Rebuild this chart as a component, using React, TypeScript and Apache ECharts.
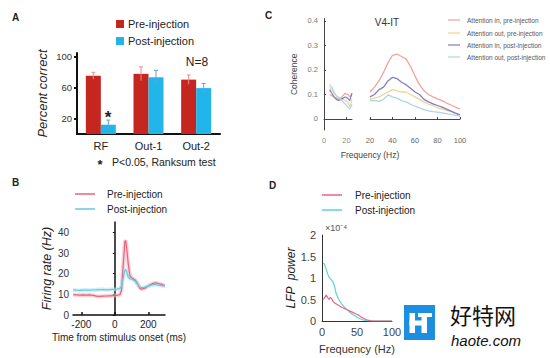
import React, { useEffect, useRef } from "react";
import * as echarts from "echarts";

// ---------- Panel A ----------
const categories = ["RF", "Out-1", "Out-2"];
const preValues = [75.5, 78, 70.5];
const postValues = [12, 73.5, 59.5];
const preErr = [4.5, 9, 6];
const postErr = [6, 9, 6];
const aTicks = [20, 60, 100];

// ---------- Panel B ----------
const bTime = [-250, -230, -210, -190, -170, -150, -130, -110, -90, -70, -50, -30, -10, 10, 30, 40, 50, 60, 65, 70, 80, 90, 100, 110, 120, 130, 140, 150, 160, 170, 180, 190, 200, 210, 220, 230, 240, 250, 260, 270, 280, 290, 300];
const bPre = [9.8, 9.7, 9.6, 9.7, 9.6, 9.7, 9.5, 9.1, 9.0, 9.1, 9.2, 9.3, 9.4, 9.5, 9.8, 12, 24, 35.5, 36, 33, 25, 19, 18, 17.5, 17, 16, 14.5, 13, 12.5, 12.8, 13, 13.5, 14, 14.5, 15, 15.3, 15.5, 15.5, 15.2, 15, 14.8, 14.5, 14.3];
const bPost = [12.2, 12, 11.9, 12, 12.1, 12.0, 12.1, 12.2, 12.3, 12.3, 12.2, 12.3, 12.4, 12.5, 12.8, 14, 18, 21.5, 22, 21, 18.5, 17.5, 17.5, 17, 16.5, 15.5, 14.5, 13.5, 13.2, 13.3, 13.5, 13.8, 14, 14.3, 14.5, 14.7, 14.8, 14.6, 14.5, 14.3, 14.2, 14.1, 14];
const bXTicks = [-200, 0, 200];
const bYTicks = [0, 10, 20, 30, 40];

// ---------- Panel C ----------
const cFreqLow = [5, 7, 9, 11, 13, 15, 17, 19, 21, 23, 25];
const cInPreLow = [0.1, 0.095, 0.09, 0.085, 0.08, 0.085, 0.095, 0.105, 0.1, 0.09, 0.105];
const cOutPreLow = [0.13, 0.12, 0.105, 0.095, 0.09, 0.085, 0.08, 0.075, 0.07, 0.05, 0.08];
const cInPostLow = [0.12, 0.105, 0.09, 0.08, 0.075, 0.08, 0.085, 0.09, 0.085, 0.075, 0.105];
const cOutPostLow = [0.14, 0.13, 0.11, 0.095, 0.085, 0.08, 0.07, 0.06, 0.05, 0.04, 0.06];
const cFreqHigh = [20, 24, 28, 32, 36, 40, 44, 48, 52, 56, 60, 64, 68, 72, 76, 80, 84, 88, 92, 96, 100];
const cInPreHigh = [0.11, 0.13, 0.155, 0.19, 0.23, 0.26, 0.265, 0.255, 0.245, 0.215, 0.175, 0.14, 0.115, 0.1, 0.09, 0.082, 0.075, 0.065, 0.057, 0.048, 0.04];
const cOutPreHigh = [0.08, 0.085, 0.09, 0.1, 0.11, 0.12, 0.115, 0.11, 0.11, 0.1, 0.09, 0.08, 0.07, 0.06, 0.055, 0.045, 0.04, 0.035, 0.03, 0.022, 0.017];
const cInPostHigh = [0.09, 0.1, 0.12, 0.13, 0.155, 0.17, 0.165, 0.15, 0.14, 0.125, 0.11, 0.1, 0.08, 0.07, 0.062, 0.055, 0.048, 0.04, 0.032, 0.024, 0.017];
const cOutPostHigh = [0.075, 0.075, 0.072, 0.08, 0.098, 0.09, 0.085, 0.075, 0.07, 0.06, 0.052, 0.045, 0.038, 0.033, 0.03, 0.028, 0.025, 0.022, 0.018, 0.015, 0.012];
const cYTicks = [0, 0.1, 0.2, 0.3, 0.4];
const cLowTicks = [0, 20];
const cHighTicks = [20, 40, 60, 80, 100];
const cNames = [
  "Attention in, pre-injection",
  "Attention out, pre-injection",
  "Attention in, post-injection",
  "Attention out, post-injection",
];

// ---------- Panel D ----------
const dFreq = [2, 4, 6, 8, 10, 12, 14, 16, 18, 20, 24, 28, 32, 36, 40, 44, 48, 52, 56, 60, 64, 68, 72, 80, 90, 100];
const dPre = [0.5, 0.55, 0.6, 0.55, 0.5, 0.55, 0.52, 0.45, 0.42, 0.4, 0.36, 0.32, 0.29, 0.26, 0.23, 0.2, 0.17, 0.14, 0.09, 0.06, 0.03, 0.01, 0, 0, 0, 0];
const dPost = [1.35, 1.3, 1.2, 1.1, 1.02, 0.98, 0.95, 0.9, 0.8, 0.65, 0.5, 0.4, 0.32, 0.26, 0.2, 0.15, 0.11, 0.07, 0.04, 0.02, 0.01, 0.005, 0, 0, 0, 0];
const dXTicks = [0, 50, 100];
const dYTicks = [0, 0.5, 1, 1.5, 2];

const FONT = "Liberation Sans, Arial, sans-serif";
const RED = "#c5261f";
const CYAN = "#22b5ea";
const cColors = ["#f2a39b", "#f0d596", "#7d7fc3", "#a9d6ea"];
const B_RED = "#e8637a";
const B_CYAN = "#66c9e6";
const D_RED = "#e46a80";
const D_CYAN = "#5fd2da";

const pairs = (xs: number[], ys: number[]) => xs.map((x, i) => [x, ys[i]]);

export default function App() {
  const ref = useRef<HTMLDivElement>(null);
  useEffect(() => {
    if (!ref.current) return;
    const chart = echarts.init(ref.current, null, { renderer: "svg" });

    const errData = (vals: number[], errs: number[], off: number) =>
      vals.map((v, i) => [i, v, errs[i], off]);

    const errSeries = (vals: number[], errs: number[], off: number, color: string) => ({
      type: "custom",
      xAxisIndex: 0,
      yAxisIndex: 0,
      silent: true,
      z: 5,
      encode: { x: 0, y: 1 },
      data: errData(vals, errs, off),
      renderItem: (params: any, api: any) => {
        const ci = api.value(0);
        const v = api.value(1);
        const e = api.value(2);
        const o = api.value(3);
        const p1 = api.coord([ci, v + e]);
        const p2 = api.coord([ci, v - e]);
        const x = p1[0] + o;
        return {
          type: "group",
          children: [
            { type: "line", shape: { x1: x, y1: p1[1], x2: x, y2: p2[1] }, style: { stroke: color, lineWidth: 1 } },
            { type: "line", shape: { x1: x - 2, y1: p1[1], x2: x + 2, y2: p1[1] }, style: { stroke: color, lineWidth: 1 } },
          ],
        };
      },
    });

    const lineS = (name: string, xi: number, data: any, color: string, width = 1.2, opacity = 1) => ({
      name,
      type: "line",
      xAxisIndex: xi,
      yAxisIndex: xi,
      data,
      symbol: "none",
      smooth: false,
      silent: true,
      lineStyle: { color, width, opacity },
      itemStyle: { color },
    });

    const txt = (text: string, x: number, y: number, size: number, extra: any = {}) => ({
      type: "text",
      x,
      y,
      silent: true,
      style: {
        text,
        fontSize: size,
        fontFamily: FONT,
        fill: "#222",
        textAlign: "left",
        textVerticalAlign: "middle",
        ...extra,
      },
    });
    const seg = (x1: number, y1: number, x2: number, y2: number, color: string, w = 1.5) => ({
      type: "line",
      silent: true,
      shape: { x1, y1, x2, y2 },
      style: { stroke: color, lineWidth: w },
    });

    const cAxisLabel = { fontSize: 7.5, color: "#888", fontFamily: FONT };

    const option: any = {
      animation: false,
      textStyle: { fontFamily: FONT },
      grid: [
        { left: 77, top: 53, width: 143, height: 81 },
        { left: 73, top: 222, width: 92, height: 93 },
        { left: 324, top: 18.5, width: 28, height: 111.5 },
        { left: 370, top: 18.5, width: 90, height: 111.5 },
        { left: 322, top: 235, width: 70, height: 86 },
      ],
      xAxis: [
        {
          type: "category",
          gridIndex: 0,
          data: categories,
          axisLine: { lineStyle: { color: "#111", width: 2 } },
          axisTick: { show: false },
          axisLabel: { fontSize: 11, color: "#222", margin: 6 },
        },
        {
          type: "value",
          gridIndex: 1,
          min: -250,
          max: 300,
          name: "Time from stimulus onset (ms)",
          nameLocation: "middle",
          nameGap: 17,
          nameTextStyle: { fontSize: 10, color: "#222" },
          axisLine: { lineStyle: { color: "#111", width: 1.5 } },
          axisTick: { inside: true, length: 3, customValues: bXTicks, lineStyle: { color: "#111", width: 1.5 } },
          axisLabel: { customValues: bXTicks, fontSize: 10, color: "#222", margin: 4 },
          splitLine: { show: false },
        },
        {
          type: "value",
          gridIndex: 2,
          min: 0,
          max: 25,
          axisLine: { lineStyle: { color: "#444", width: 1 } },
          axisTick: { inside: true, length: 2, customValues: [20], lineStyle: { color: "#444" } },
          axisLabel: { customValues: cLowTicks, ...cAxisLabel, margin: 6 },
          splitLine: { show: false },
        },
        {
          type: "value",
          gridIndex: 3,
          min: 20,
          max: 100,
          axisLine: { lineStyle: { color: "#444", width: 1 } },
          axisTick: { inside: true, length: 2, customValues: cHighTicks, lineStyle: { color: "#444" } },
          axisLabel: { customValues: cHighTicks, ...cAxisLabel, color: "#666", margin: 6 },
          splitLine: { show: false },
        },
        {
          type: "value",
          gridIndex: 4,
          min: 0,
          max: 100,
          name: "Frequency (Hz)",
          nameLocation: "middle",
          nameGap: 22,
          nameTextStyle: { fontSize: 11, color: "#333" },
          axisLine: { lineStyle: { color: "#333", width: 1 } },
          axisTick: { show: false },
          axisLabel: { customValues: dXTicks, fontSize: 11, color: "#444", margin: 5 },
          splitLine: { show: false },
        },
      ],
      yAxis: [
        {
          type: "value",
          gridIndex: 0,
          min: 0,
          max: 105,
          name: "Percent correct",
          nameLocation: "middle",
          nameGap: 28,
          nameTextStyle: { fontSize: 13, fontStyle: "italic", color: "#222" },
          axisLine: { show: true, lineStyle: { color: "#111", width: 2 } },
          axisTick: { show: true, length: 3, customValues: aTicks, lineStyle: { color: "#111", width: 2 } },
          axisLabel: { customValues: aTicks, fontSize: 9.5, color: "#333", margin: 5 },
          splitLine: { show: false },
        },
        {
          type: "value",
          gridIndex: 1,
          min: 0,
          max: 45,
          name: "Firing rate (Hz)",
          nameLocation: "middle",
          nameGap: 19,
          nameTextStyle: { fontSize: 12.5, fontStyle: "italic", color: "#222" },
          axisLine: { show: true, lineStyle: { color: "#111", width: 1.5 } },
          axisTick: { show: true, length: 2, customValues: bYTicks, lineStyle: { color: "#111" } },
          axisLabel: { customValues: bYTicks, fontSize: 10, color: "#333", margin: 4 },
          splitLine: { show: false },
        },
        {
          type: "value",
          gridIndex: 2,
          min: -0.045,
          max: 0.41,
          name: "Coherence",
          nameLocation: "middle",
          nameGap: 26,
          nameTextStyle: { fontSize: 8.5, color: "#444" },
          axisLine: { show: true, lineStyle: { color: "#444", width: 1 } },
          axisTick: { show: true, inside: true, length: 2, customValues: cYTicks, lineStyle: { color: "#444" } },
          axisLabel: { customValues: cYTicks, ...cAxisLabel, color: "#777", margin: 6 },
          splitLine: { show: false },
        },
        {
          type: "value",
          gridIndex: 3,
          min: -0.045,
          max: 0.41,
          show: false,
          splitLine: { show: false },
        },
        {
          type: "value",
          gridIndex: 4,
          min: 0,
          max: 2,
          name: "LFP  power",
          nameLocation: "middle",
          nameGap: 24,
          nameTextStyle: { fontSize: 12, fontStyle: "italic", color: "#222" },
          axisLine: { show: true, lineStyle: { color: "#333", width: 1 } },
          axisTick: { show: false },
          axisLabel: { customValues: dYTicks, fontSize: 11, color: "#444", margin: 6 },
          splitLine: { show: false },
        },
      ],
      series: [
        {
          name: "Pre-injection",
          type: "bar",
          xAxisIndex: 0,
          yAxisIndex: 0,
          data: preValues,
          barWidth: 15,
          barGap: "0%",
          itemStyle: { color: RED },
          silent: true,
        },
        {
          name: "Post-injection",
          type: "bar",
          xAxisIndex: 0,
          yAxisIndex: 0,
          data: postValues,
          barWidth: 15,
          barGap: "0%",
          itemStyle: { color: CYAN },
          silent: true,
        },
        errSeries(preValues, preErr, -7.5, "#ee8a8a"),
        errSeries(postValues, postErr, 7.5, "#5aa6d6"),
        // B bands + lines
        lineS("Pre-injection band", 1, pairs(bTime, bPre), "#f6b4c0", 4, 0.6),
        lineS("Post-injection band", 1, pairs(bTime, bPost), "#b5e6f4", 4, 0.6),
        lineS("Pre-injection", 1, pairs(bTime, bPre), B_RED, 1.2),
        lineS("Post-injection", 1, pairs(bTime, bPost), B_CYAN, 1.2),
        // C low
        lineS(cNames[0], 2, pairs(cFreqLow, cInPreLow), cColors[0], 1.2),
        lineS(cNames[1], 2, pairs(cFreqLow, cOutPreLow), cColors[1], 1.2),
        lineS(cNames[2], 2, pairs(cFreqLow, cInPostLow), cColors[2], 1.2),
        lineS(cNames[3], 2, pairs(cFreqLow, cOutPostLow), cColors[3], 1.2),
        // C high
        lineS(cNames[0], 3, pairs(cFreqHigh, cInPreHigh), cColors[0], 1.3),
        lineS(cNames[1], 3, pairs(cFreqHigh, cOutPreHigh), cColors[1], 1.3),
        lineS(cNames[2], 3, pairs(cFreqHigh, cInPostHigh), cColors[2], 1.3),
        lineS(cNames[3], 3, pairs(cFreqHigh, cOutPostHigh), cColors[3], 1.3),
        // D
        lineS("Post-injection", 4, pairs(dFreq, dPost), D_CYAN, 1.2),
        lineS("Pre-injection", 4, pairs(dFreq, dPre), D_RED, 1.2),
      ],
      graphic: [
        // panel letters
        txt("A", 12, 17, 10, { fontWeight: "bold" }),
        txt("B", 12, 182, 10, { fontWeight: "bold" }),
        txt("C", 265, 15, 10, { fontWeight: "bold" }),
        txt("D", 269, 185, 10, { fontWeight: "bold" }),
        // A legend
        { type: "rect", silent: true, shape: { x: 116, y: 20, width: 8, height: 8 }, style: { fill: RED } },
        { type: "rect", silent: true, shape: { x: 116, y: 37, width: 8, height: 8 }, style: { fill: CYAN } },
        txt("Pre-injection", 128, 24, 11),
        txt("Post-injection", 128, 41, 11),
        txt("N=8", 197, 62, 12, { textAlign: "center" }),
        txt("*", 108, 117, 17, { textAlign: "center", fontWeight: "bold" }),
        txt("*", 100, 164, 13, { textAlign: "center", fontWeight: "bold" }),
        txt("P<0.05, Ranksum test", 112, 162, 10.5),
        // B legend
        seg(75, 194, 95, 194, B_RED),
        seg(75, 209, 95, 209, B_CYAN),
        txt("Pre-injection", 107, 194, 10),
        txt("Post-injection", 107, 209, 10),
        // C texts
        txt("V4-IT", 387, 22, 10, { textAlign: "center", fill: "#333" }),
        txt("Frequency (Hz)", 370, 155, 8.5, { textAlign: "center", fill: "#444" }),
        seg(448, 20, 460, 20, cColors[0], 1.2),
        seg(448, 33, 460, 33, cColors[1], 1.2),
        seg(448, 45, 460, 45, cColors[2], 1.2),
        seg(448, 57, 460, 57, cColors[3], 1.2),
        txt(cNames[0], 467, 20, 6.5, { fill: "#555" }),
        txt(cNames[1], 467, 33, 6.5, { fill: "#555" }),
        txt(cNames[2], 467, 45, 6.5, { fill: "#555" }),
        txt(cNames[3], 467, 57, 6.5, { fill: "#555" }),
        // D texts
        seg(322, 195, 342, 195, D_RED),
        seg(322, 210, 342, 210, D_CYAN),
        txt("Pre-injection", 355, 195, 10),
        txt("Post-injection", 355, 210, 10),
        txt("×10⁻⁴", 325, 228, 9, { fill: "#555" }),
        // watermark
        { type: "rect", silent: true, shape: { x: 404, y: 305, width: 31, height: 35 }, style: { fill: "#1d8fe1" } },
        { type: "rect", silent: true, shape: { x: 409.5, y: 313, width: 5.5, height: 20 }, style: { fill: "#fff" } },
        { type: "rect", silent: true, shape: { x: 409.5, y: 320.5, width: 17, height: 5 }, style: { fill: "#fff" } },
        { type: "rect", silent: true, shape: { x: 418, y: 313, width: 14, height: 4 }, style: { fill: "#fff" } },
        { type: "rect", silent: true, shape: { x: 421.5, y: 313, width: 5.5, height: 20 }, style: { fill: "#fff" } },
        txt("好特网", 450, 314, 22, { fontFamily: "Noto Sans CJK SC", fill: "#111" }),
        txt("haote.com", 451, 340, 15, { fontStyle: "italic", fill: "#111" }),
      ],
    };
    chart.setOption(option);
    return () => chart.dispose();
  }, []);
  return (
    <div
      ref={ref}
      style={{ position: "fixed", left: 0, top: 0, width: 550, height: 358, background: "#fff" }}
    />
  );
}
